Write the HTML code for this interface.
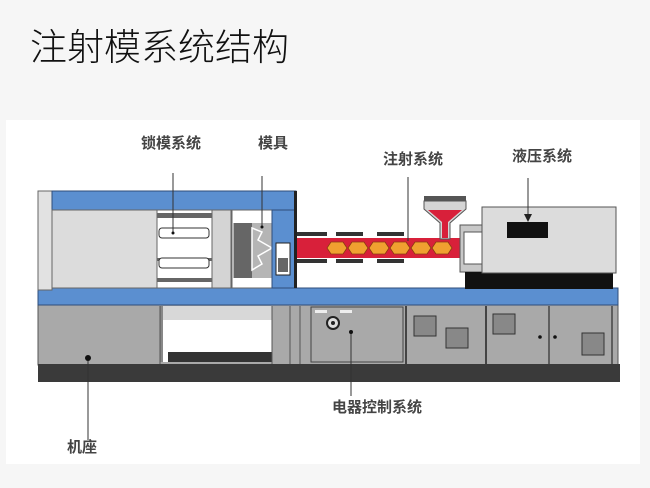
<!DOCTYPE html>
<html><head><meta charset="utf-8"><style>
html,body{margin:0;padding:0;background:#f6f6f6;}
svg{display:block}
text{font-family:"Liberation Sans","Noto Sans CJK SC",sans-serif;}
</style></head><body>
<svg width="650" height="488" viewBox="0 0 650 488" xmlns="http://www.w3.org/2000/svg">
<rect x="0" y="0" width="650" height="488" fill="#f6f6f6"/>
<text x="30" y="60" font-size="37" fill="#111" font-weight="300" font-family="Noto Sans CJK SC, sans-serif">注射模系统结构</text>
<rect x="6" y="120" width="634" height="344" fill="#fff"/>

<!-- labels -->
<g font-size="15" fill="#444" font-family="Noto Serif CJK SC, serif" font-weight="bold">
<text x="141" y="148">锁模系统</text>
<text x="258" y="148">模具</text>
<text x="383" y="164">注射系统</text>
<text x="512" y="161">液压系统</text>
<text x="332" y="412">电器控制系统</text>
<text x="67" y="452">机座</text>
</g>

<!-- base -->
<rect x="38" y="305" width="580" height="60" fill="#a9a9a9" stroke="#555" stroke-width="1"/>
<rect x="38" y="364" width="582" height="18" fill="#3a3a3a"/>
<rect x="160" y="306" width="112" height="56" fill="#fff"/>
<rect x="160" y="306" width="112" height="14" fill="#d8d8d8"/>
<rect x="160" y="306" width="3" height="56" fill="#888"/>
<rect x="168" y="352" width="104" height="10" fill="#333"/>
<line x1="160" y1="306" x2="160" y2="364" stroke="#555"/>
<line x1="272" y1="306" x2="272" y2="364" stroke="#555"/>
<line x1="290" y1="306" x2="290" y2="364" stroke="#555"/>
<line x1="300" y1="306" x2="300" y2="364" stroke="#555"/>
<rect x="311" y="307" width="92" height="55" fill="#a9a9a9" stroke="#444" stroke-width="1"/>
<rect x="315" y="310" width="12" height="3" fill="#eee"/><rect x="340" y="310" width="12" height="3" fill="#eee"/>
<circle cx="333" cy="323" r="6" fill="#ddd" stroke="#222" stroke-width="2"/>
<circle cx="333" cy="323" r="2" fill="#222"/>
<line x1="406" y1="306" x2="406" y2="364" stroke="#444" stroke-width="2"/>
<line x1="486" y1="306" x2="486" y2="364" stroke="#444" stroke-width="2"/>
<line x1="549" y1="306" x2="549" y2="364" stroke="#444" stroke-width="1.5"/>
<line x1="612" y1="306" x2="612" y2="364" stroke="#444" stroke-width="1.5"/>
<g fill="#888" stroke="#333">
<rect x="414" y="316" width="22" height="20"/><rect x="446" y="328" width="22" height="20"/>
<rect x="493" y="314" width="22" height="20"/><rect x="582" y="333" width="22" height="22"/>
</g>
<circle cx="540" cy="337" r="1.8" fill="#111"/><circle cx="555" cy="337" r="1.8" fill="#111"/>

<!-- blue bottom bar -->
<rect x="38" y="288" width="580" height="17" fill="#5b8fd0" stroke="#2f4d7a" stroke-width="1"/>

<!-- clamp frame -->
<rect x="38" y="191" width="14" height="99" fill="#e2e2e2" stroke="#666"/>
<rect x="52" y="191" width="244" height="19" fill="#5b8fd0" stroke="#2f4d7a"/>
<rect x="52" y="210" width="105" height="78" fill="#dcdcdc" stroke="#666"/>
<rect x="157" y="210" width="55" height="78" fill="#fff" stroke="#666"/>
<rect x="157" y="213" width="55" height="5" fill="#666"/>
<rect x="157" y="258" width="55" height="3" fill="#666"/>
<rect x="157" y="278" width="55" height="4" fill="#666"/>
<rect x="159" y="228" width="50" height="10" rx="3" fill="#fff" stroke="#333"/>
<rect x="159" y="258" width="50" height="10" rx="3" fill="#fff" stroke="#333"/>
<rect x="212" y="210" width="19" height="78" fill="#d4d4d4" stroke="#666"/>
<rect x="232" y="210" width="40" height="78" fill="#fff" stroke="#666"/>
<rect x="232" y="223" width="40" height="55" fill="#b5b5b5"/>
<rect x="234" y="223" width="18" height="55" fill="#666"/>
<path d="M252 228 L262 232 L258 240 L272 248 L258 256 L262 264 L252 270 Z" fill="#b5b5b5" stroke="#fff" stroke-width="1.5"/>
<rect x="272" y="210" width="23" height="78" fill="#5b8fd0" stroke="#2f4d7a"/>
<rect x="276" y="243" width="14" height="32" fill="#fff" stroke="#222"/>
<rect x="278" y="258" width="10" height="14" fill="#666"/>
<rect x="294" y="191" width="3" height="97" fill="#222"/>

<!-- barrel -->
<rect x="297" y="232" width="30" height="4" fill="#333"/>
<rect x="336" y="232" width="27" height="4" fill="#333"/><rect x="377" y="232" width="27" height="4" fill="#333"/>
<rect x="297" y="259" width="30" height="4" fill="#333"/>
<rect x="336" y="259" width="27" height="4" fill="#333"/><rect x="377" y="259" width="27" height="4" fill="#333"/>
<rect x="297" y="238" width="165" height="20" fill="#d8203a"/>
<g fill="#f0a030" stroke="#8a3a10" stroke-width="0.8">
<path d="M331 242 h12 l4 6 l-4 6 h-12 l-4 -6z"/>
<path d="M352 242 h12 l4 6 l-4 6 h-12 l-4 -6z"/>
<path d="M373 242 h12 l4 6 l-4 6 h-12 l-4 -6z"/>
<path d="M394 242 h12 l4 6 l-4 6 h-12 l-4 -6z"/>
<path d="M415 242 h12 l4 6 l-4 6 h-12 l-4 -6z"/>
<path d="M436 242 h12 l4 6 l-4 6 h-12 l-4 -6z"/>
</g>
<!-- hopper -->
<rect x="424" y="196" width="42" height="5" fill="#555"/>
<path d="M424 201 h42 v8 l-16 14 v16 h-10 v-16 l-16 -14z" fill="#d5d5d5" stroke="#555"/>
<path d="M428 210 h34 l-14 12 v16 h-6 v-16z" fill="#d8203a"/>
<!-- nozzle housing -->
<rect x="460" y="225" width="24" height="47" fill="#c8c8c8" stroke="#555"/>
<rect x="464" y="232" width="18" height="32" fill="#fff" stroke="#555"/>
<!-- hydraulic -->
<rect x="465" y="272" width="148" height="17" fill="#111"/>
<rect x="482" y="207" width="134" height="66" fill="#dcdcdc" stroke="#555"/>
<rect x="507" y="222" width="41" height="16" fill="#111"/>

<!-- leader lines -->
<g stroke="#333" stroke-width="1">
<line x1="173" y1="173" x2="173" y2="232"/>
<line x1="262" y1="176" x2="262" y2="226"/>
<line x1="408" y1="177" x2="408" y2="241"/>
<line x1="528" y1="178" x2="528" y2="216"/>
<line x1="351" y1="332" x2="351" y2="396"/>
<line x1="88" y1="358" x2="88" y2="440"/>
</g>
<path d="M524 214 L532 214 L528 222 Z" fill="#222"/>
<circle cx="351" cy="332" r="2" fill="#111"/>
<circle cx="88" cy="358" r="3" fill="#111"/>
<circle cx="173" cy="233" r="1.5" fill="#111"/>
<circle cx="262" cy="227" r="1.5" fill="#111"/>
</svg>
</body></html>
